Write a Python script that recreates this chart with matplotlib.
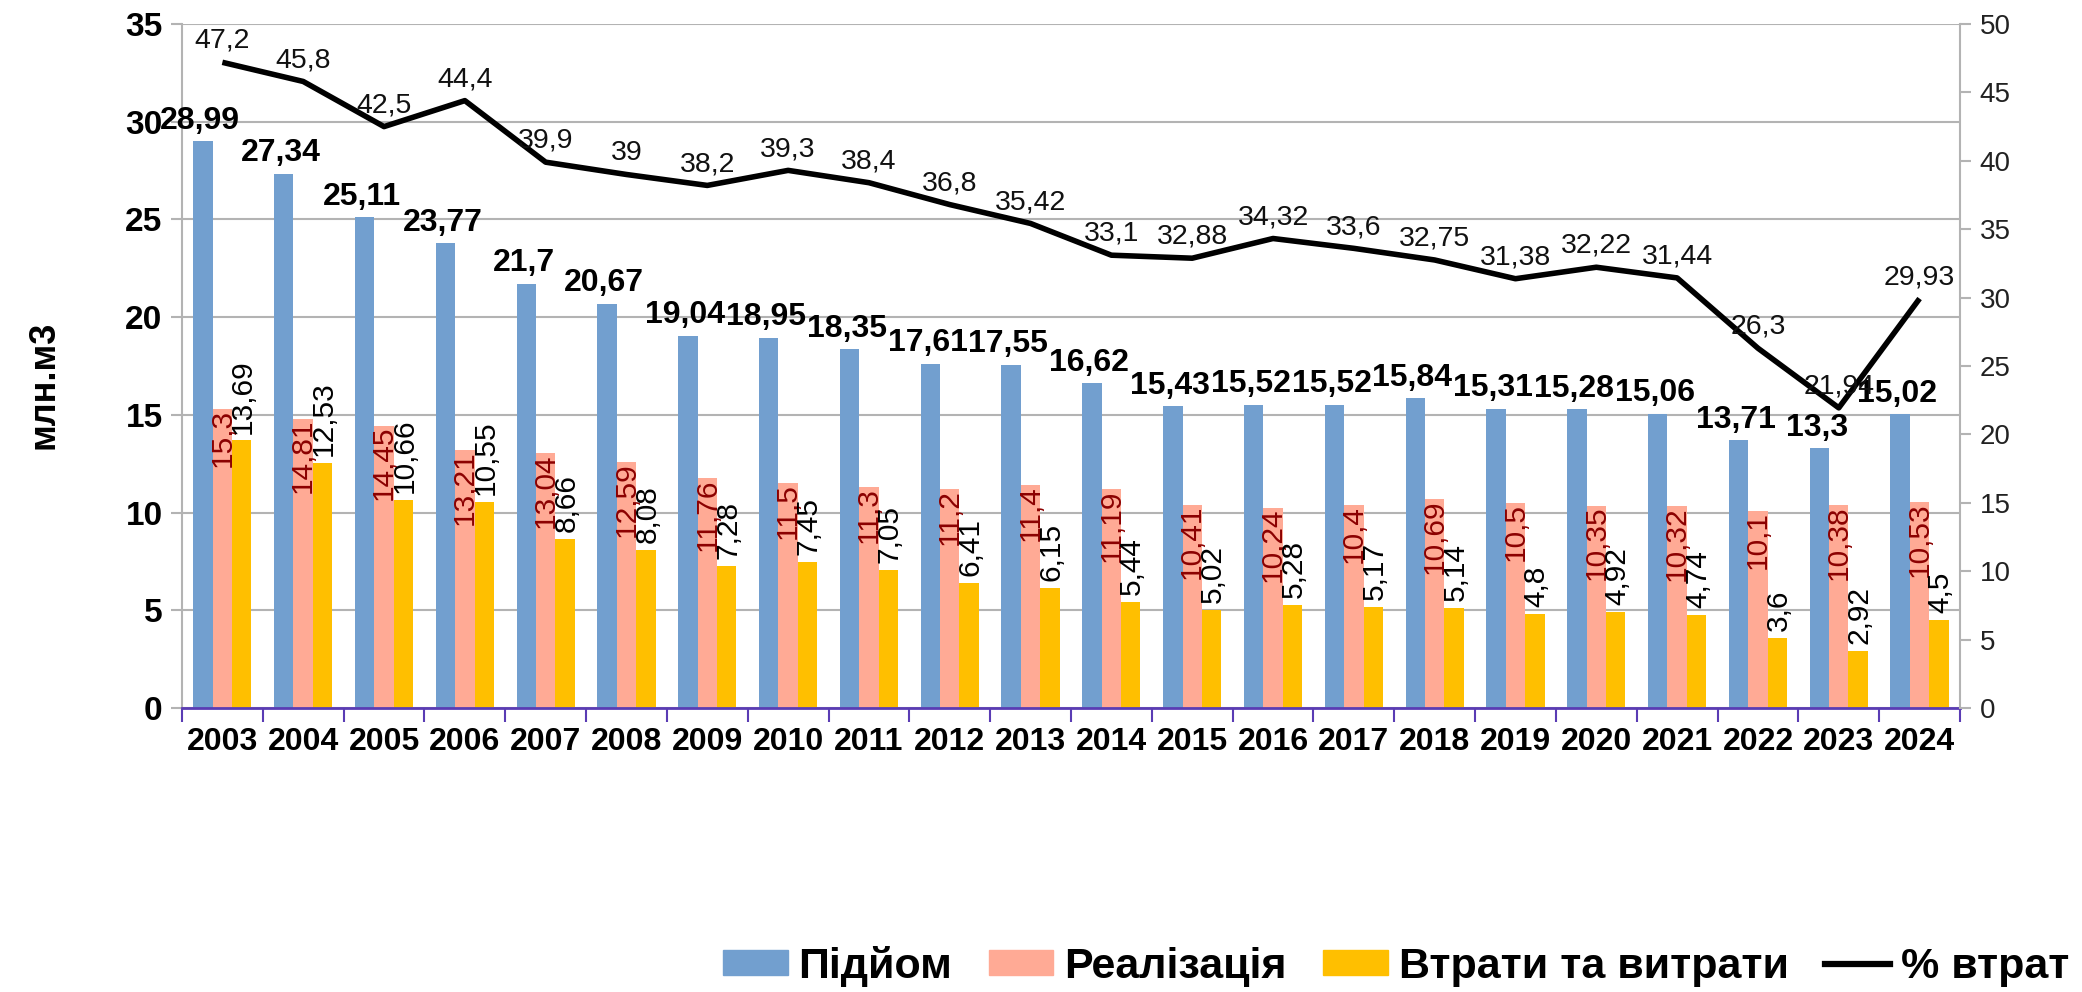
import matplotlib
matplotlib.use('Agg')
import matplotlib.pyplot as plt
import numpy as np
from matplotlib.lines import Line2D
from matplotlib.patches import Patch

plt.rcParams['font.family'] = ['Liberation Sans', 'DejaVu Sans']

years = [str(y) for y in range(2003, 2025)]
pidyom = [28.99, 27.34, 25.11, 23.77, 21.7, 20.67, 19.04, 18.95, 18.35, 17.61, 17.55,
          16.62, 15.43, 15.52, 15.52, 15.84, 15.31, 15.28, 15.06, 13.71, 13.3, 15.02]
realizatsiya = [15.3, 14.81, 14.45, 13.21, 13.04, 12.59, 11.76, 11.5, 11.3, 11.2, 11.4,
                11.19, 10.41, 10.24, 10.4, 10.69, 10.5, 10.35, 10.32, 10.1, 10.38, 10.53]
vtraty = [13.69, 12.53, 10.66, 10.55, 8.66, 8.08, 7.28, 7.45, 7.05, 6.41, 6.15,
          5.44, 5.02, 5.28, 5.17, 5.14, 4.8, 4.92, 4.74, 3.6, 2.92, 4.5]
pct = [47.2, 45.8, 42.5, 44.4, 39.9, 39, 38.2, 39.3, 38.4, 36.8, 35.42,
       33.1, 32.88, 34.32, 33.6, 32.75, 31.38, 32.22, 31.44, 26.3, 21.94, 29.93]

series_names = ['Підйом', 'Реалізація', 'Втрати та витрати', '% втрат']
c_blue, c_salmon, c_yellow = '#729fcf', '#ffaa95', '#ffbf00'
c_grid = '#b3b3b3'
c_purple = '#5a3cb4'


def fmt(v):
    return f"{v:g}".replace('.', ',')


fig = plt.figure(figsize=(20.82, 9.92), dpi=100)
ax = fig.add_axes([0.0874, 0.2863, 0.854, 0.6895])
x = np.arange(len(years))
w = 0.24

ax.set_axisbelow(True)
ax.yaxis.grid(True, color=c_grid, lw=1.5)
ax.bar(x - w, pidyom, w, color=c_blue, zorder=2)
ax.bar(x, realizatsiya, w, color=c_salmon, zorder=2)
ax.bar(x + w, vtraty, w, color=c_yellow, zorder=2)

ax.set_xlim(-0.5, len(years) - 0.5)
ax.set_ylim(0, 35)
ax.set_yticks(np.arange(0, 36, 5))
ax.set_xticks(x)
ax.set_xticklabels(years, fontsize=23, fontweight='bold')
ax.set_xticks(np.arange(-0.5, len(years), 1), minor=True)
ax.tick_params(axis='x', which='major', length=0, pad=14)
ax.tick_params(axis='x', which='minor', length=10, width=1.5, color=c_purple)
ax.tick_params(axis='y', length=8, width=1.5, color=c_grid, labelsize=24, pad=6)
for lab in ax.get_yticklabels():
    lab.set_fontweight('bold')
ax.spines['top'].set_visible(False)
ax.spines['right'].set_visible(False)
ax.spines['left'].set_color(c_grid)
ax.spines['left'].set_linewidth(1.5)
ax.spines['bottom'].set_color(c_purple)
ax.spines['bottom'].set_linewidth(2)

for xi, v in zip(x, pidyom):
    ax.annotate(fmt(v), (xi - w, v), xytext=(-2, 4), textcoords='offset points',
                ha='center', va='bottom', fontsize=23, fontweight='bold', zorder=5)
for xi, v in zip(x, realizatsiya):
    ax.annotate(fmt(v), (xi, v), xytext=(0, 0), textcoords='offset points',
                ha='center', va='top', rotation=90, fontsize=21.5, color='#8b0000', zorder=5)
for xi, v in zip(x, vtraty):
    ax.annotate(fmt(v), (xi + w, v), xytext=(1, 5), textcoords='offset points',
                ha='center', va='bottom', rotation=90, fontsize=21.5, color='black', zorder=5)

ax2 = ax.twinx()
ax2.set_ylim(0, 50)
ax2.set_yticks(np.arange(0, 51, 5))
ax2.plot(x, pct, color='black', lw=4, solid_joinstyle='round', solid_capstyle='butt', zorder=4)
for xi, v in zip(x, pct):
    ax2.annotate(fmt(v), (xi, v), xytext=(0, 6), textcoords='offset points',
                 ha='center', va='bottom', fontsize=20.5, color='#111111', zorder=6)
ax2.tick_params(axis='y', length=8, width=1.5, color=c_grid, labelsize=20, labelcolor='#222222', pad=6)
ax2.spines['top'].set_visible(False)
ax2.spines['left'].set_visible(False)
ax2.spines['bottom'].set_visible(False)
ax2.spines['right'].set_color(c_grid)
ax2.spines['right'].set_linewidth(1.5)

fig.text(0.021, 0.612, 'млн.м3', rotation=90, ha='center', va='center',
         fontsize=26, fontweight='bold')

handles = [Patch(color=c_blue), Patch(color=c_salmon), Patch(color=c_yellow),
           Line2D([0], [0], color='black', lw=4.5)]
fig.legend(handles, series_names, loc='lower right', bbox_to_anchor=(1.002, -0.012), ncol=4,
           frameon=False, prop=dict(weight='bold', size=31), handlelength=1.5,
           handleheight=0.5, handletextpad=0.25, columnspacing=0.85, borderaxespad=0.0)

fig.savefig('out.png', dpi=100)
